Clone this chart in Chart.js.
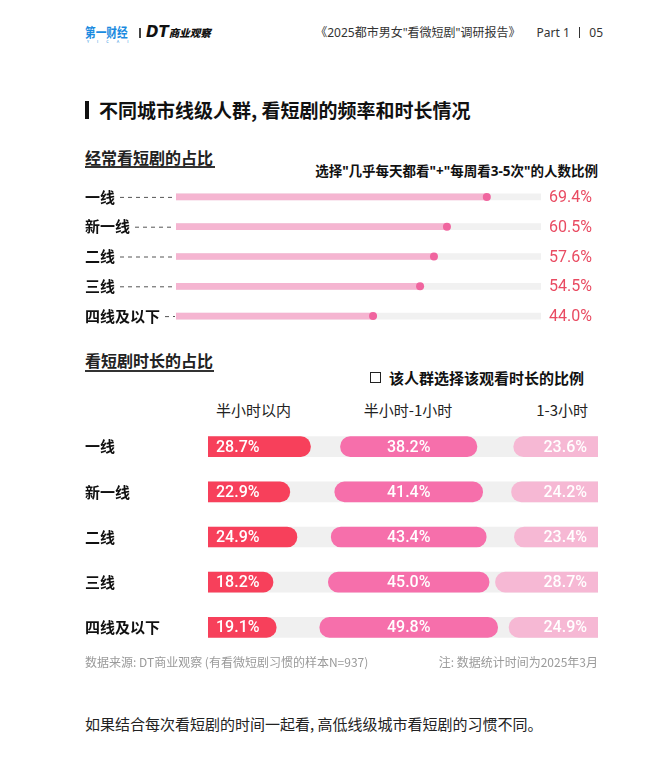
<!DOCTYPE html>
<html>
<head>
<meta charset="utf-8">
<script src="https://cdn.jsdelivr.net/npm/chart.js@4.4.1/dist/chart.umd.min.js"></script>
<style>
  body { margin: 0; width: 672px; height: 769px; position: relative; background: #fff; font-family: 'Noto Sans CJK SC', sans-serif; color: #222; overflow: hidden; }
  .t { position: absolute; white-space: nowrap; line-height: 1; }
  .q { font-family: 'Noto Sans', 'Noto Sans CJK SC', sans-serif; }
  canvas { position: absolute; }
</style>
</head>
<body>
<!-- header -->
<div class="t" style="left:85px;top:25px;font-size:13px;font-weight:bold;color:#1a8be0;transform:scaleX(0.82);transform-origin:left;">第一财经</div>
<div class="t" style="left:87px;top:39px;font-size:4px;color:#1a8be0;letter-spacing:8px;">YICAI</div>
<div style="position:absolute;left:139px;top:28px;width:1.5px;height:10px;background:#444;"></div>
<div class="t" style="left:146px;top:25px;font-size:15px;font-weight:900;font-style:italic;font-family:'DejaVu Sans',sans-serif;color:#111;">DT<span style="font-size:10.5px;font-family:'Noto Sans CJK SC';">商业观察</span></div>
<div class="t q" style="right:69px;top:27px;font-size:12px;color:#333;">《2025都市男女"看微短剧"调研报告》<span style="margin-left:16px;">Part 1</span><span style="display:inline-block;width:1.5px;height:11px;background:#333;margin:0 9px;vertical-align:-1px;"></span>05</div>

<!-- title -->
<div style="position:absolute;left:85px;top:101px;width:4px;height:18px;background:#111;"></div>
<div class="t" style="left:99px;top:100px;font-size:19px;font-weight:bold;color:#111;">不同城市线级人群, 看短剧的频率和时长情况</div>

<!-- section 1 -->
<div class="t" style="left:85px;top:149px;font-size:16px;font-weight:bold;color:#222;">经常看短剧的占比</div>
<div style="position:absolute;left:85px;top:166px;width:130px;height:2px;background:#333;"></div>
<div class="t q" style="right:74px;top:165px;font-size:13.5px;font-weight:bold;color:#111;">选择"几乎每天都看"+"每周看3-5次"的人数比例</div>
<canvas id="freqChart" style="left:85px;top:173px;width:515px;height:167px;"></canvas>

<!-- section 2 -->
<div class="t" style="left:85px;top:352px;font-size:16px;font-weight:bold;color:#222;">看短剧时长的占比</div>
<div style="position:absolute;left:85px;top:370px;width:129px;height:2px;background:#333;"></div>
<div style="position:absolute;left:370px;top:372px;width:9px;height:9px;border:1.5px solid #222;"></div>
<div class="t" style="left:389px;top:370px;font-size:15px;font-weight:bold;color:#111;">该人群选择该观看时长的比例</div>
<div class="t" id="h0" style="left:216px;top:402px;font-size:15px;color:#222;"></div>
<div class="t" id="h1" style="left:408px;top:402px;font-size:15px;color:#222;transform:translateX(-50%);"></div>
<div class="t" id="h2" style="right:84px;top:402px;font-size:15px;color:#222;"></div>
<canvas id="durChart" style="left:85px;top:415px;width:515px;height:244px;"></canvas>

<!-- footer -->
<div class="t" style="left:85px;top:656px;font-size:12px;color:#9a9a9a;">数据来源: DT商业观察 (有看微短剧习惯的样本N=937)</div>
<div class="t" style="right:74px;top:656px;font-size:12px;color:#9a9a9a;">注: 数据统计时间为2025年3月</div>
<div class="t" style="left:85px;top:716px;font-size:15px;color:#222;">如果结合每次看短剧的时间一起看, 高低线级城市看短剧的习惯不同。</div>

<script>
const tiers = ['一线', '新一线', '二线', '三线', '四线及以下'];
const frequentShare = [69.4, 60.5, 57.6, 54.5, 44.0];
const durationLabels = ['半小时以内', '半小时-1小时', '1-3小时'];
const under30min = [28.7, 22.9, 24.9, 18.2, 19.1];
const halfToOneHour = [38.2, 41.4, 43.4, 45.0, 49.8];
const oneToThreeHours = [23.6, 24.2, 23.4, 28.7, 24.9];

// scale ranges (track lengths), same px per % in the bottom chart
const FREQ_MAX = 81.5;
const DUR_MAX = 109.2;
const DUR_MID = 56.2;

durationLabels.forEach((l, i) => { document.getElementById('h' + i).textContent = l; });

const tickFont = { family: 'Noto Sans CJK SC', size: 15, weight: 'bold' };
const numFont = 'Roboto, sans-serif';

// dashed leader lines + value labels for the first chart
const freqDecor = {
    id: 'freqDecor',
    afterDatasetsDraw(chart) {
        const ctx = chart.ctx;
        const y = chart.scales.y;
        const area = chart.chartArea;
        ctx.save();
        ctx.font = 'bold 15px "Noto Sans CJK SC"';
        tiers.forEach((t, i) => {
            const py = y.getPixelForValue(i);
            const x0 = y.left + ctx.measureText(t).width + 5;
            ctx.beginPath();
            ctx.setLineDash([4, 4]);
            ctx.strokeStyle = '#555';
            ctx.lineWidth = 1;
            ctx.moveTo(x0, py + 0.5);
            ctx.lineTo(area.left - 1, py + 0.5);
            ctx.stroke();
        });
        ctx.setLineDash([]);
        ctx.font = '16px ' + numFont;
        ctx.fillStyle = '#e94b62';
        ctx.textBaseline = 'middle';
        ctx.textAlign = 'left';
        frequentShare.forEach((v, i) => {
            ctx.fillText(v.toFixed(1) + '%', area.right + 8, y.getPixelForValue(i) + 1);
        });
        ctx.restore();
    }
};

new Chart(document.getElementById('freqChart'), {
    type: 'bar',
    data: {
        labels: tiers,
        datasets: [
            {
                type: 'line',
                indexAxis: 'y',
                data: frequentShare,
                showLine: false,
                pointRadius: 4,
                pointBackgroundColor: '#f0659f',
                pointBorderWidth: 0,
                order: 0
            },
            {
                data: frequentShare,
                backgroundColor: '#f5b5d1',
                barThickness: 6,
                grouped: false,
                order: 1
            },
            {
                data: tiers.map(() => FREQ_MAX),
                backgroundColor: '#f1f1f1',
                barThickness: 6,
                grouped: false,
                order: 2
            }
        ]
    },
    options: {
        indexAxis: 'y',
        responsive: false,
        animation: false,
        layout: { padding: { left: 0, right: 59, top: 0, bottom: 0 } },
        plugins: { legend: { display: false }, tooltip: { enabled: false } },
        scales: {
            x: { display: false, min: 0, max: FREQ_MAX },
            y: {
                grid: { display: false },
                border: { display: false },
                ticks: { crossAlign: 'far', padding: 0, color: '#111', font: tickFont },
                afterFit(s) { s.width = 91; }
            }
        }
    },
    plugins: [freqDecor]
});

// value labels inside the duration bars
const durLabels = {
    id: 'durLabels',
    afterDatasetsDraw(chart) {
        const ctx = chart.ctx;
        const sets = [under30min, halfToOneHour, oneToThreeHours];
        ctx.save();
        ctx.font = '500 16px ' + numFont;
        ctx.fillStyle = '#fff';
        ctx.textBaseline = 'middle';
        sets.forEach((vals, d) => {
            chart.getDatasetMeta(d).data.forEach((el, i) => {
                const txt = vals[i].toFixed(1) + '%';
                const l = Math.min(el.x, el.base), r = Math.max(el.x, el.base);
                if (d === 0) { ctx.textAlign = 'left'; ctx.fillText(txt, l + 8, el.y + 1); }
                else if (d === 1) { ctx.textAlign = 'center'; ctx.fillText(txt, (l + r) / 2, el.y + 1); }
                else { ctx.textAlign = 'right'; ctx.fillText(txt, r - 11, el.y + 1); }
            });
        });
        ctx.restore();
    }
};

const segBase = { barThickness: 20, grouped: false, borderSkipped: false };

new Chart(document.getElementById('durChart'), {
    type: 'bar',
    data: {
        labels: tiers,
        datasets: [
            Object.assign({
                label: durationLabels[0],
                data: under30min.map(v => [0, v]),
                backgroundColor: '#f7405b',
                borderRadius: { topLeft: 0, bottomLeft: 0, topRight: 10, bottomRight: 10 },
                order: 0
            }, segBase),
            Object.assign({
                label: durationLabels[1],
                data: halfToOneHour.map(v => [DUR_MID - v / 2, DUR_MID + v / 2]),
                backgroundColor: '#f66fab',
                borderRadius: 10,
                order: 1
            }, segBase),
            Object.assign({
                label: durationLabels[2],
                data: oneToThreeHours.map(v => [DUR_MAX - v, DUR_MAX]),
                backgroundColor: '#f6b8d4',
                borderRadius: { topLeft: 10, bottomLeft: 10, topRight: 0, bottomRight: 0 },
                order: 2
            }, segBase),
            Object.assign({
                data: tiers.map(() => [0, DUR_MAX]),
                backgroundColor: '#f0f0f0',
                borderRadius: 0,
                order: 3
            }, segBase)
        ]
    },
    options: {
        indexAxis: 'y',
        responsive: false,
        animation: false,
        layout: { padding: { left: 0, right: 2, top: 0, bottom: 0 } },
        plugins: { legend: { display: false }, tooltip: { enabled: false } },
        scales: {
            x: { display: false, min: 0, max: DUR_MAX },
            y: {
                grid: { display: false },
                border: { display: false },
                ticks: { crossAlign: 'far', padding: 0, color: '#111', font: tickFont },
                afterFit(s) { s.width = 123; }
            }
        }
    },
    plugins: [durLabels]
});
</script>
</body>
</html>
